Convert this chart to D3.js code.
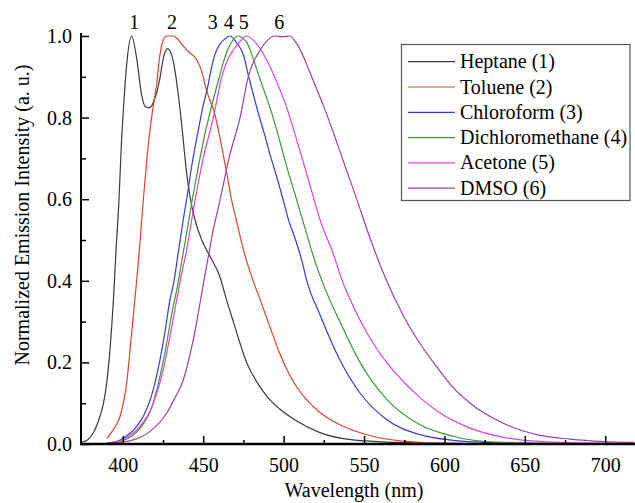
<!DOCTYPE html>
<html><head><meta charset="utf-8">
<script src="https://cdn.jsdelivr.net/npm/d3@7"></script>
<style>
body{margin:0;background:#fff}
svg{display:block}
text{font-family:"Liberation Serif","Times New Roman",serif;fill:#000}
</style>
</head><body>
<svg id="chart" width="635" height="503"></svg>
<script>
// ---- data ----
const seriesNames = ["Heptane (1)", "Toluene (2)", "Chloroform (3)", "Dichloromethane (4)", "Acetone (5)", "DMSO (6)"];
const seriesColors = ["#3a3a3a", "#dc4434", "#3a3ad6", "#3a9a3a", "#e040e0", "#9a449a"];
const peakLabels = ["1", "2", "3", "4", "5", "6"];
const peakLabelWl = [407.1, 430.6, 455.9, 465.8, 475.2, 497.3];
const xTicks = [400, 450, 500, 550, 600, 650, 700];
const yTicks = [0.0, 0.2, 0.4, 0.6, 0.8, 1.0];

const heptaneWl = [374, 378, 381.6, 385.8, 388, 390, 392, 394.1, 395.8, 397.6, 399.3, 400.3, 402.4, 405.5, 408.6, 411.7, 413.8, 416.5, 420, 423.1, 425.2, 427.9, 431.4, 434.5, 436.6, 439.7, 441.8, 444.9, 449.1, 454.2, 460.4, 464, 468.7, 477, 485.3, 490, 497.8, 506.6, 522.6, 543, 570, 620, 718];
const heptaneVal = [0.004, 0.01, 0.027, 0.068, 0.1, 0.15, 0.23, 0.35, 0.476, 0.597, 0.75, 0.816, 0.93, 1.0, 0.946, 0.856, 0.828, 0.824, 0.848, 0.897, 0.946, 0.969, 0.938, 0.856, 0.783, 0.664, 0.606, 0.549, 0.5, 0.46, 0.41, 0.36, 0.3, 0.2, 0.14, 0.115, 0.085, 0.06, 0.028, 0.01, 0.004, 0.001, 0.0];

const tolueneWl = [390, 394, 398.3, 402.4, 405.5, 408.6, 410.3, 412.7, 415, 416.9, 419, 421, 423.1, 425.2, 427.3, 431.2, 433.5, 437, 440.7, 446, 449, 452.2, 457.3, 459.4, 464.6, 467.7, 470.8, 475, 481.2, 485.3, 490.3, 497.8, 505, 514, 522.6, 535, 549.6, 574, 600, 640, 718];
const tolueneVal = [0.013, 0.035, 0.068, 0.15, 0.272, 0.4, 0.476, 0.597, 0.7, 0.77, 0.83, 0.88, 0.954, 0.99, 1.0, 1.0, 0.995, 0.978, 0.962, 0.942, 0.914, 0.865, 0.807, 0.77, 0.664, 0.597, 0.545, 0.476, 0.398, 0.355, 0.3, 0.22, 0.16, 0.11, 0.077, 0.047, 0.025, 0.007, 0.002, 0.0, 0.0];

const chloroformWl = [390, 398.3, 408.6, 413, 417, 420, 423.1, 426, 429.3, 431.8, 434.5, 437.6, 440.1, 443, 447, 450, 452.5, 455.3, 457.3, 460.4, 463.5, 466.7, 470.8, 475, 478, 481.2, 484.3, 488.4, 491.5, 495.7, 499.8, 503, 507, 511.3, 514.4, 522.6, 535, 547.5, 564, 584.8, 605.4, 626, 660, 718];
const chloroformVal = [0.002, 0.01, 0.043, 0.07, 0.108, 0.15, 0.206, 0.27, 0.353, 0.398, 0.47, 0.55, 0.61, 0.685, 0.77, 0.83, 0.87, 0.925, 0.955, 0.98, 0.993, 1.0, 0.983, 0.954, 0.905, 0.856, 0.81, 0.755, 0.71, 0.655, 0.597, 0.55, 0.505, 0.45, 0.4, 0.317, 0.206, 0.125, 0.06, 0.023, 0.009, 0.004, 0.001, 0.0];

const dcmWl = [392, 400, 410, 418, 425, 431, 434.5, 437.6, 440.7, 442.8, 444.9, 450.5, 456.3, 460.4, 462.5, 465.6, 468.5, 471.8, 474.5, 477, 480.2, 484, 487.5, 491.5, 495.7, 501.9, 508, 510.2, 514, 518.5, 524.3, 535, 547.5, 564, 584.8, 605.4, 626, 660, 718];
const dcmVal = [0.002, 0.008, 0.035, 0.09, 0.2, 0.33, 0.398, 0.47, 0.54, 0.59, 0.635, 0.75, 0.845, 0.905, 0.935, 0.97, 0.99, 1.0, 0.995, 0.985, 0.955, 0.91, 0.87, 0.825, 0.77, 0.68, 0.6, 0.57, 0.52, 0.46, 0.395, 0.3, 0.2, 0.11, 0.047, 0.019, 0.006, 0.002, 0.0];

const acetoneWl = [392, 400, 410, 418, 425, 431, 435.6, 439.7, 444.9, 450, 456.3, 461.5, 465, 468.7, 472.5, 477, 481, 486, 491.5, 496.5, 501.9, 507, 512.3, 518.5, 522.6, 531, 536, 543, 550, 556, 565, 574, 585, 595, 616, 636, 657, 690, 718];
const acetoneVal = [0.002, 0.011, 0.04, 0.09, 0.18, 0.3, 0.398, 0.476, 0.597, 0.7, 0.8, 0.9, 0.94, 0.965, 0.985, 1.0, 0.99, 0.965, 0.925, 0.88, 0.825, 0.76, 0.69, 0.605, 0.55, 0.465, 0.405, 0.34, 0.285, 0.245, 0.195, 0.155, 0.113, 0.082, 0.039, 0.017, 0.007, 0.002, 0.001];

const dmsoWl = [392, 400, 406.5, 417, 427.3, 432, 437.6, 443.8, 450, 453.2, 456, 460.4, 466, 472.9, 478, 485.3, 490, 494.6, 499, 504, 507.5, 512.3, 515.4, 520, 524.7, 533, 545, 553.7, 563, 574.4, 585, 595, 605, 616, 636.6, 657.4, 678, 699, 718];
const dmsoVal = [0.002, 0.005, 0.01, 0.031, 0.076, 0.11, 0.157, 0.255, 0.39, 0.46, 0.52, 0.597, 0.7, 0.8, 0.9, 0.965, 0.99, 1.0, 0.998, 1.0, 0.985, 0.95, 0.92, 0.875, 0.83, 0.74, 0.605, 0.505, 0.41, 0.315, 0.245, 0.19, 0.14, 0.1, 0.051, 0.023, 0.012, 0.006, 0.004];

const seriesWl = [heptaneWl, tolueneWl, chloroformWl, dcmWl, acetoneWl, dmsoWl];
const seriesVal = [heptaneVal, tolueneVal, chloroformVal, dcmVal, acetoneVal, dmsoVal];

// ---- layout ----
const svg = d3.select("#chart");
const mLeft = 81, mRight = 635, mTop = 36, mBottom = 444;
const x = d3.scaleLinear().domain([374, 718.5]).range([mLeft, mRight]);
const y = d3.scaleLinear().domain([0, 1]).range([mBottom, mTop]);

svg.append("defs").append("clipPath").attr("id", "plotclip")
  .append("rect").attr("x", mLeft).attr("y", 0).attr("width", mRight - mLeft).attr("height", mBottom);

const line = d3.line().x(d => x(d[0])).y(d => y(d[1])).curve(d3.curveMonotoneX);

const plot = svg.append("g").attr("clip-path", "url(#plotclip)");
seriesNames.forEach((name, i) => {
  const pts = seriesWl[i].map((w, j) => [w, seriesVal[i][j]]);
  plot.append("path").datum(pts)
    .attr("d", line)
    .attr("fill", "none")
    .attr("stroke", seriesColors[i])
    .attr("stroke-width", 1.2)
    .attr("stroke-linejoin", "round");
});

// ---- axes ----
const xAxis = d3.axisBottom(x).tickValues(xTicks).tickSize(-8).tickPadding(14).tickFormat(d3.format("d"));
const gx = svg.append("g").attr("transform", `translate(0,${mBottom})`).call(xAxis);
gx.select(".domain").remove();
gx.selectAll(".tick line").attr("stroke", "#000").attr("stroke-width", 1.5);
gx.selectAll(".tick text").attr("font-size", 20).attr("font-family", "Liberation Serif").attr("fill", "#000");
const xMinor = d3.axisBottom(x).tickValues([425, 475, 525, 575, 625, 675]).tickSize(-4).tickFormat("");
const gxm = svg.append("g").attr("transform", `translate(0,${mBottom})`).call(xMinor);
gxm.select(".domain").remove();
gxm.selectAll(".tick line").attr("stroke", "#000").attr("stroke-width", 1.5);

const yAxis = d3.axisLeft(y).tickValues(yTicks).tickSize(-8).tickPadding(9).tickFormat(d3.format(".1f"));
const gy = svg.append("g").attr("transform", `translate(${mLeft},0)`).call(yAxis);
gy.select(".domain").remove();
gy.selectAll(".tick line").attr("stroke", "#000").attr("stroke-width", 1.5);
gy.selectAll(".tick text").attr("font-size", 20).attr("font-family", "Liberation Serif").attr("fill", "#000");
const yMinor = d3.axisLeft(y).tickValues([0.1, 0.3, 0.5, 0.7, 0.9]).tickSize(-5).tickFormat("");
const gym = svg.append("g").attr("transform", `translate(${mLeft},0)`).call(yMinor);
gym.select(".domain").remove();
gym.selectAll(".tick line").attr("stroke", "#000").attr("stroke-width", 1.5);

// axis lines
svg.append("line").attr("x1", mLeft).attr("x2", mLeft).attr("y1", mTop - 3).attr("y2", mBottom + 1)
  .attr("stroke", "#000").attr("stroke-width", 2);
svg.append("line").attr("x1", mLeft - 1).attr("x2", mRight).attr("y1", mBottom).attr("y2", mBottom)
  .attr("stroke", "#000").attr("stroke-width", 2.5);

// axis titles
svg.append("text").attr("x", 354).attr("y", 497).attr("text-anchor", "middle")
  .attr("font-size", 20).text("Wavelength (nm)");
svg.append("text").attr("transform", "translate(29,215) rotate(-90)").attr("text-anchor", "middle")
  .attr("font-size", 20).text("Normalized Emission Intensity (a. u.)");

// peak labels
peakLabels.forEach((t, i) => {
  svg.append("text").attr("x", x(peakLabelWl[i])).attr("y", 29).attr("text-anchor", "middle")
    .attr("font-size", 20).text(t);
});

// legend
const lg = svg.append("g");
lg.append("rect").attr("x", 401.5).attr("y", 44.5).attr("width", 228.5).attr("height", 156)
  .attr("fill", "#fff").attr("stroke", "#555").attr("stroke-width", 1.2);
seriesNames.forEach((name, i) => {
  const cy = 61.7 + i * 25.3;
  lg.append("line").attr("x1", 408).attr("x2", 455).attr("y1", cy).attr("y2", cy)
    .attr("stroke", seriesColors[i]).attr("stroke-width", 1.2);
  lg.append("text").attr("x", 460).attr("y", cy + 6.5).attr("font-size", 20).text(name);
});
</script>
</body></html>
